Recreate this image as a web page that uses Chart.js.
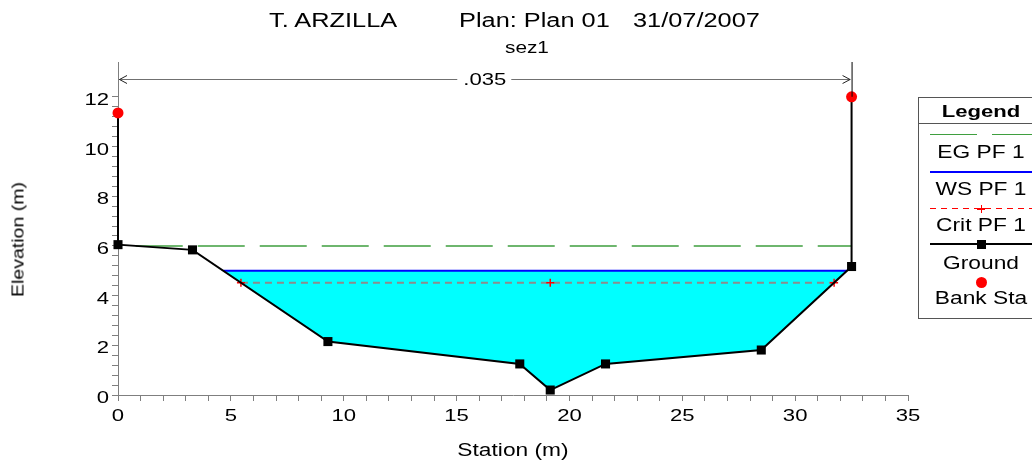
<!DOCTYPE html>
<html>
<head>
<meta charset="utf-8">
<title>T. ARZILLA - sez1</title>
<script src="https://cdn.jsdelivr.net/npm/chart.js@4/dist/chart.umd.min.js"></script>
<style>
  html, body { margin: 0; padding: 0; background: #fff; }
  #wrap { position: relative; width: 1032px; height: 467px; overflow: hidden; }
  #plot { position: absolute; left: 0; top: 0; }
  .t { position: absolute; white-space: pre; font-family: "Liberation Sans", Arial, sans-serif;
       line-height: 1; color: #000; transform-origin: 0 0; transform: scaleX(1.3); }
  .c { text-align: center; transform-origin: 50% 0; }
  #legend { position: absolute; left: 918px; top: 97px; width: 130px; height: 222px;
            box-sizing: border-box; border: 1px solid #555; background: #fff; }
  .sep { position: absolute; left: 0; width: 130px; height: 1px; background: #555; }
  .bar { position: absolute; }
</style>
</head>
<body>
<div id="wrap">
  <canvas id="plot" width="1032" height="467"></canvas>

  <div class="t" style="left:269px; top:10.5px; font-size:19.5px;">T. ARZILLA</div>
  <div class="t" style="left:459px; top:10.5px; font-size:19.5px;">Plan: Plan 01</div>
  <div class="t" style="left:633px; top:10.5px; font-size:19.5px;">31/07/2007</div>
  <div class="t" style="left:505px; top:39.5px; font-size:16px;">sez1</div>

  <div class="t c" style="left:413px; width:200px; top:442.2px; font-size:17.5px;">Station (m)</div>
  <div class="t" style="left:-82px; width:200px; top:231px; font-size:17px; text-align:center;
       transform-origin:50% 50%; transform: rotate(-90deg) scaleX(1.15);">Elevation (m)</div>

  <div id="legend">
    <div class="t c" style="left:-38px; width:200px; top:4.6px; font-size:17px; font-weight:bold;">Legend</div>
    <div class="sep" style="top:25px;"></div>

    <div class="bar" style="left:11px; top:36px; width:47px; height:1px; background:#3f9f3f;"></div>
    <div class="bar" style="left:73px; top:36px; width:40px; height:1px; background:#3f9f3f;"></div>
    <div class="t c" style="left:-38px; width:200px; top:46.2px; font-size:17.5px;">EG PF 1</div>

    <div class="bar" style="left:11px; top:73px; width:102px; height:2px; background:#0000ff;"></div>
    <div class="t c" style="left:-38px; width:200px; top:83.2px; font-size:17.5px;">WS PF 1</div>

    <div class="bar" style="left:11px; top:110px; width:102px; height:1px;
         background:repeating-linear-gradient(to right, #ff0000 0 6px, transparent 6px 11px);"></div>
    <div class="bar" style="left:58px; top:110px; width:8px; height:1.5px; background:#ff0000;"></div>
    <div class="bar" style="left:61.5px; top:106.5px; width:1.5px; height:8px; background:#ff0000;"></div>
    <div class="t c" style="left:-38px; width:200px; top:119.2px; font-size:17.5px;">Crit PF 1</div>

    <div class="bar" style="left:11px; top:145px; width:102px; height:2px; background:#000;"></div>
    <div class="bar" style="left:57.5px; top:141.5px; width:9px; height:9px; background:#000;"></div>
    <div class="t c" style="left:-38px; width:200px; top:157.2px; font-size:17.5px;">Ground</div>

    <div class="bar" style="left:56.5px; top:178.5px; width:11px; height:11px; border-radius:50%; background:#ff0000;"></div>
    <div class="t c" style="left:-38px; width:200px; top:192.2px; font-size:17.5px;">Bank Sta</div>
  </div>
</div>

<script>
// Cross section "sez1" - station / elevation pairs of the ground profile
const groundStation = [0, 0, 3.3, 9.3, 17.8, 19.15, 21.6, 28.5, 32.5, 32.5];
const groundElev    = [11.35, 6.05, 5.84, 2.15, 1.25, 0.2, 1.25, 1.81, 5.17, 12.0];

// Bank stations
const bankStation = [0, 32.5];
const bankElev    = [11.35, 12.0];

// Profile PF 1 results
const egElev   = 6.0;   // energy grade
const wsElev   = 5.0;   // water surface
const critElev = 4.52;  // critical depth

// Manning's n zones
const nStations = [0, 32.5];
const nValues   = ['.035'];

// Axis ticks (labelled values and minor tick spacing)
const xTickLabels = [0, 5, 10, 15, 20, 25, 30, 35];
const yTickLabels = [0, 2, 4, 6, 8, 10, 12];
const xMinorStep = 1;
const yMinorStep = 0.4;

const WIDE = 1.3;      // horizontal stretch used for all text
const FONT = '"Liberation Sans", Arial, sans-serif';

// stations where a horizontal level crosses the ground line
function crossings(level) {
  const out = [];
  for (let i = 0; i < groundStation.length - 1; i++) {
    const y1 = groundElev[i], y2 = groundElev[i + 1];
    if ((y1 - level) * (y2 - level) <= 0 && y1 !== y2) {
      const t = (level - y1) / (y2 - y1);
      out.push(groundStation[i] + t * (groundStation[i + 1] - groundStation[i]));
    }
  }
  return out;
}

const groundPts = groundStation.map((s, i) => ({ x: s, y: groundElev[i] }));
const bankPts = bankStation.map((s, i) => ({ x: s, y: bankElev[i] }));

const egX = crossings(egElev);
const wsX = crossings(wsElev);
const critX = crossings(critElev);
const thalweg = groundStation[groundElev.indexOf(Math.min(...groundElev))];

const egPts = [{ x: egX[0], y: egElev }, { x: egX[egX.length - 1], y: egElev }];
const wsPts = [{ x: wsX[0], y: wsElev }, { x: wsX[wsX.length - 1], y: wsElev }];
const critPts = [critX[0], thalweg, critX[critX.length - 1]].map(s => ({ x: s, y: critElev }));

// wetted area: water surface from left to right, back along the ground below it
const waterPts = [...wsPts];
for (let i = groundStation.length - 1; i >= 0; i--) {
  if (groundElev[i] < wsElev && groundStation[i] > wsX[0] && groundStation[i] < wsX[wsX.length - 1]) {
    waterPts.push({ x: groundStation[i], y: groundElev[i] });
  }
}

function buildTicks(max, step) {
  const out = [];
  for (let v = 0; v <= max + 1e-9; v += step) out.push({ value: Math.round(v * 100) / 100 });
  return out;
}

// stretched text drawing for everything written on the canvas
const wideText = {
  id: 'wideText',
  beforeInit(chart) {
    const ctx = chart.ctx;
    const orig = ctx.fillText.bind(ctx);
    ctx.fillText = function (text, x, y, maxW) {
      this.save();
      this.translate(x, y);
      this.scale(WIDE, 1);
      if (maxW === undefined) orig(text, 0, 0); else orig(text, 0, 0, maxW);
      this.restore();
    };
  }
};

// Manning's n zone marker: arrow between the zone limits with the n value
const nValueMarker = {
  id: 'nValueMarker',
  afterDatasetsDraw(chart) {
    const { ctx, chartArea, scales } = chart;
    const x = scales.x, y = scales.y;
    const top = chartArea.top;
    const ay = top + 17;
    const xl = x.getPixelForValue(nStations[0]);
    const xr = x.getPixelForValue(nStations[nStations.length - 1]);
    ctx.save();
    ctx.lineWidth = 1;
    ctx.strokeStyle = '#000';
    ctx.beginPath();
    ctx.moveTo(xr + 0.5, top);
    ctx.lineTo(xr + 0.5, y.getPixelForValue(groundElev[groundElev.length - 1]));
    ctx.stroke();

    ctx.font = '17px ' + FONT;
    const label = nValues[0];
    const tw = ctx.measureText(label).width * WIDE;
    const mid = (xl + xr) / 2;
    ctx.strokeStyle = '#707070';
    ctx.beginPath();
    ctx.moveTo(xl + 1, ay + 0.5); ctx.lineTo(mid - tw / 2 - 6, ay + 0.5);
    ctx.moveTo(mid + tw / 2 + 5, ay + 0.5); ctx.lineTo(xr - 1, ay + 0.5);
    ctx.stroke();
    ctx.strokeStyle = '#222';
    ctx.beginPath();
    ctx.moveTo(xl + 9, ay - 3.5); ctx.lineTo(xl + 1.5, ay + 0.5); ctx.lineTo(xl + 9, ay + 4.5);
    ctx.moveTo(xr - 9, ay - 3.5); ctx.lineTo(xr - 1.5, ay + 0.5); ctx.lineTo(xr - 9, ay + 4.5);
    ctx.stroke();
    ctx.fillStyle = '#000';
    ctx.textAlign = 'center';
    ctx.textBaseline = 'middle';
    ctx.fillText(label, mid, ay + 1.5);
    ctx.restore();
  }
};

const axisGray = '#7f7f7f';

new Chart(document.getElementById('plot'), {
  type: 'line',
  data: {
    datasets: [
      { label: 'Bank Sta', data: bankPts, showLine: false, pointStyle: 'circle', pointRadius: 5.5,
        pointBackgroundColor: '#ff0000', pointBorderWidth: 0, clip: false },
      { label: 'Ground', data: groundPts, borderColor: '#000', borderWidth: 2, pointStyle: 'rect',
        pointRadius: c => (c.dataIndex === 0 || c.dataIndex === groundPts.length - 1) ? 0 : 6.4,
        pointBackgroundColor: '#000', pointBorderWidth: 0, clip: false },
      { label: 'EG PF 1', data: egPts, borderColor: '#3f9f3f', borderWidth: 1.5, borderDash: [47, 15],
        pointRadius: 0, clip: false },
      { label: 'WS PF 1', data: wsPts, borderColor: '#0000ff', borderWidth: 2, pointRadius: 0, clip: false },
      { label: 'Crit PF 1', data: critPts, borderColor: '#8c8c8c', borderWidth: 2, borderDash: [7, 5],
        pointStyle: 'cross', pointRadius: 4, pointBorderColor: '#ff0000', pointBorderWidth: 1.5, clip: false },
      { label: 'Water', data: waterPts, fill: 'shape', backgroundColor: '#00ffff',
        borderColor: 'rgba(0,0,0,0)', borderWidth: 0, pointRadius: 0, clip: false }
    ]
  },
  options: {
    responsive: false,
    animation: false,
    events: [],
    layout: { padding: { top: 62, right: 124, left: 0, bottom: 0 } },
    plugins: { legend: { display: false }, title: { display: false }, tooltip: { enabled: false } },
    scales: {
      x: {
        type: 'linear', min: 0, max: 35,
        afterFit: s => { s.height = 72; },
        afterBuildTicks: s => { s.ticks = buildTicks(35, xMinorStep); },
        ticks: {
          autoSkip: false, maxRotation: 0, padding: 5, color: '#000',
          font: { family: FONT, size: 17 },
          callback: v => xTickLabels.includes(v) ? String(v) : ''
        },
        grid: { display: true, drawOnChartArea: false, drawTicks: true, tickLength: 6, color: axisGray },
        border: { display: true, color: axisGray, width: 1 }
      },
      y: {
        type: 'linear', min: 0, max: 13.4,
        afterFit: s => { s.width = 118; },
        afterBuildTicks: s => { s.ticks = buildTicks(12, yMinorStep); },
        ticks: {
          autoSkip: false, padding: 3, color: '#000', labelOffset: 3.5,
          font: { family: FONT, size: 17 },
          callback: v => yTickLabels.includes(Math.round(v * 100) / 100) ? String(Math.round(v)) : ''
        },
        grid: { display: true, drawOnChartArea: false, drawTicks: true, tickLength: 6, color: axisGray },
        border: { display: true, color: axisGray, width: 1 }
      }
    }
  },
  plugins: [wideText, nValueMarker]
});
</script>
</body>
</html>
